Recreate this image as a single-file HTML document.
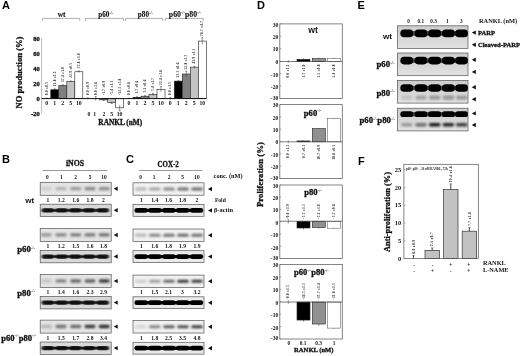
<!DOCTYPE html>
<html><head><meta charset="utf-8"><title>Figure</title>
<style>
html,body{margin:0;padding:0;background:#fff;}
svg{display:block;filter:blur(0.3px);}
.s{font-family:"Liberation Serif", serif;}
.h{font-family:"Liberation Sans", sans-serif;}
</style></head><body>
<svg width="520" height="356" viewBox="0 0 520 356">
<defs>
<filter id="b1" x="-20%" y="-50%" width="140%" height="200%"><feGaussianBlur stdDeviation="1.1 0.8"/></filter>
<filter id="b2" x="-20%" y="-50%" width="140%" height="200%"><feGaussianBlur stdDeviation="0.9 0.7"/></filter>
<filter id="b3" x="-20%" y="-50%" width="140%" height="200%"><feGaussianBlur stdDeviation="0.75 0.65"/></filter>
<linearGradient id="ge" x1="0" y1="0" x2="0" y2="1"><stop offset="0" stop-color="#cdcdcd"/><stop offset="0.5" stop-color="#d6d6d6"/><stop offset="1" stop-color="#e2e2e2"/></linearGradient>
</defs>
<rect width="520" height="356" fill="#fff"/>
<g text-anchor="middle" font-weight="bold" fill="#111">
<text class="h" x="2" y="9.2" font-size="11" text-anchor="start" fill="#000">A</text>
<text class="h" x="2" y="163" font-size="11" text-anchor="start" fill="#000">B</text>
<text class="h" x="126" y="162.6" font-size="11" text-anchor="start" fill="#000">C</text>
<text class="h" x="257" y="9" font-size="11" text-anchor="start" fill="#000">D</text>
<text class="h" x="357.5" y="9" font-size="11" text-anchor="start" fill="#000">E</text>
<text class="h" x="358" y="164.8" font-size="11" text-anchor="start" fill="#000">F</text>
<line x1="41.6" y1="38" x2="41.6" y2="113.5" stroke="#aaa" stroke-width="0.8"/>
<text class="s" x="39.8" y="41.3" font-size="6.5" text-anchor="end" stroke="#111" stroke-width="0.3">80</text>
<text class="s" x="39.8" y="56.3" font-size="6.5" text-anchor="end" stroke="#111" stroke-width="0.3">60</text>
<text class="s" x="39.8" y="71.3" font-size="6.5" text-anchor="end" stroke="#111" stroke-width="0.3">40</text>
<text class="s" x="39.8" y="86.3" font-size="6.5" text-anchor="end" stroke="#111" stroke-width="0.3">20</text>
<text class="s" x="39.8" y="101.3" font-size="6.5" text-anchor="end" stroke="#111" stroke-width="0.3">0</text>
<text class="s" x="39.8" y="116.3" font-size="6.5" text-anchor="end" stroke="#111" stroke-width="0.3">-20</text>
<line x1="46.8" y1="98.19999999999999" x2="46.8" y2="99.0" stroke="#333" stroke-width="0.5"/>
<line x1="45.8" y1="98.19999999999999" x2="47.8" y2="98.19999999999999" stroke="#333" stroke-width="0.5"/>
<text class="s" x="47.9" y="95.0" font-size="3.4" text-anchor="start" fill="#222" transform="rotate(-90 47.9 95.0)" letter-spacing="0.25">0.0 ±0.5</text>
<rect x="50.80" y="89.75" width="8.00" height="8.85" fill="#000" stroke="#222" stroke-width="0.6"/>
<line x1="54.8" y1="88.85" x2="54.8" y2="89.75" stroke="#333" stroke-width="0.5"/>
<line x1="53.8" y1="88.85" x2="55.8" y2="88.85" stroke="#333" stroke-width="0.5"/>
<text class="s" x="55.9" y="86.15" font-size="3.4" text-anchor="start" fill="#222" transform="rotate(-90 55.9 86.15)" letter-spacing="0.25">11.8 ±1.2</text>
<rect x="58.80" y="85.55" width="8.00" height="13.05" fill="#808080" stroke="#222" stroke-width="0.6"/>
<line x1="62.8" y1="84.85" x2="62.8" y2="86.25" stroke="#333" stroke-width="0.5"/>
<line x1="61.8" y1="84.85" x2="63.8" y2="84.85" stroke="#333" stroke-width="0.5"/>
<text class="s" x="63.9" y="81.95" font-size="3.4" text-anchor="start" fill="#222" transform="rotate(-90 63.9 81.95)" letter-spacing="0.25">17.4 ±1.0</text>
<rect x="66.80" y="81.42" width="8.00" height="17.17" fill="#c4c4c4" stroke="#222" stroke-width="0.6"/>
<line x1="70.8" y1="81.02499999999999" x2="70.8" y2="81.825" stroke="#333" stroke-width="0.5"/>
<line x1="69.8" y1="81.02499999999999" x2="71.8" y2="81.02499999999999" stroke="#333" stroke-width="0.5"/>
<text class="s" x="71.89999999999999" y="77.825" font-size="3.4" text-anchor="start" fill="#222" transform="rotate(-90 71.89999999999999 77.825)" letter-spacing="0.25">22.9 ±0.5</text>
<rect x="74.80" y="71.75" width="8.00" height="26.85" fill="#fff" stroke="#222" stroke-width="0.6"/>
<line x1="78.8" y1="70.95" x2="78.8" y2="72.55" stroke="#333" stroke-width="0.5"/>
<line x1="77.8" y1="70.95" x2="79.8" y2="70.95" stroke="#333" stroke-width="0.5"/>
<text class="s" x="79.89999999999999" y="68.15" font-size="3.4" text-anchor="start" fill="#222" transform="rotate(-90 79.89999999999999 68.15)" letter-spacing="0.25">35.8 ±1.0</text>
<text class="s" x="46.8" y="105.2" font-size="5.8">0</text>
<text class="s" x="54.8" y="105.2" font-size="5.8">1</text>
<text class="s" x="62.8" y="105.2" font-size="5.8">2</text>
<text class="s" x="70.8" y="105.2" font-size="5.8">5</text>
<text class="s" x="78.8" y="105.2" font-size="5.8">10</text>
<line x1="87.7" y1="97.89999999999999" x2="87.7" y2="99.3" stroke="#333" stroke-width="0.5"/>
<line x1="86.7" y1="97.89999999999999" x2="88.7" y2="97.89999999999999" stroke="#333" stroke-width="0.5"/>
<text class="s" x="88.8" y="95.0" font-size="3.4" text-anchor="start" fill="#222" transform="rotate(-90 88.8 95.0)" letter-spacing="0.25">0.0 ±0.9</text>
<line x1="95.7" y1="96.6" x2="95.7" y2="100.6" stroke="#333" stroke-width="0.5"/>
<line x1="94.7" y1="96.6" x2="96.7" y2="96.6" stroke="#333" stroke-width="0.5"/>
<text class="s" x="96.8" y="95.0" font-size="3.4" text-anchor="start" fill="#222" transform="rotate(-90 96.8 95.0)" letter-spacing="0.25">0.0 ±2.6</text>
<rect x="99.70" y="98.60" width="8.00" height="1.27" fill="#808080" stroke="#222" stroke-width="0.6"/>
<line x1="103.7" y1="99.175" x2="103.7" y2="100.575" stroke="#333" stroke-width="0.5"/>
<line x1="102.7" y1="100.575" x2="104.7" y2="100.575" stroke="#333" stroke-width="0.5"/>
<text class="s" x="104.8" y="95.1" font-size="3.4" text-anchor="start" fill="#222" transform="rotate(-90 104.8 95.1)" letter-spacing="0.25">-1.7 ±0.9</text>
<rect x="107.70" y="98.60" width="8.00" height="4.05" fill="#c4c4c4" stroke="#222" stroke-width="0.6"/>
<line x1="111.7" y1="101.85" x2="111.7" y2="103.44999999999999" stroke="#333" stroke-width="0.5"/>
<line x1="110.7" y1="103.44999999999999" x2="112.7" y2="103.44999999999999" stroke="#333" stroke-width="0.5"/>
<text class="s" x="112.8" y="95.1" font-size="3.4" text-anchor="start" fill="#222" transform="rotate(-90 112.8 95.1)" letter-spacing="0.25">-5.4 ±1.1</text>
<rect x="115.70" y="98.60" width="8.00" height="9.23" fill="#fff" stroke="#222" stroke-width="0.6"/>
<line x1="119.7" y1="104.92499999999998" x2="119.7" y2="110.725" stroke="#333" stroke-width="0.5"/>
<line x1="118.7" y1="110.725" x2="120.7" y2="110.725" stroke="#333" stroke-width="0.5"/>
<text class="s" x="120.8" y="95.1" font-size="3.4" text-anchor="start" fill="#222" transform="rotate(-90 120.8 95.1)" letter-spacing="0.25">-12.3 ±3.8</text>
<text class="s" x="89" y="115.6" font-size="5.8">0</text>
<text class="s" x="94.7" y="115.6" font-size="5.8">1</text>
<text class="s" x="104" y="115.6" font-size="5.8">2</text>
<text class="s" x="111.8" y="115.6" font-size="5.8">5</text>
<text class="s" x="119.6" y="115.6" font-size="5.8">10</text>
<line x1="129.0" y1="98.1" x2="129.0" y2="99.1" stroke="#333" stroke-width="0.5"/>
<line x1="128.0" y1="98.1" x2="130.0" y2="98.1" stroke="#333" stroke-width="0.5"/>
<text class="s" x="130.1" y="95.0" font-size="3.4" text-anchor="start" fill="#222" transform="rotate(-90 130.1 95.0)" letter-spacing="0.25">0.0 ±0.6</text>
<rect x="133.00" y="97.32" width="8.00" height="1.27" fill="#000" stroke="#222" stroke-width="0.6"/>
<line x1="137.0" y1="96.82499999999999" x2="137.0" y2="97.32499999999999" stroke="#333" stroke-width="0.5"/>
<line x1="136.0" y1="96.82499999999999" x2="138.0" y2="96.82499999999999" stroke="#333" stroke-width="0.5"/>
<text class="s" x="138.1" y="93.725" font-size="3.4" text-anchor="start" fill="#222" transform="rotate(-90 138.1 93.725)" letter-spacing="0.25">1.7 ±0.6</text>
<rect x="141.00" y="96.20" width="8.00" height="2.40" fill="#808080" stroke="#222" stroke-width="0.6"/>
<line x1="145.0" y1="95.69999999999999" x2="145.0" y2="96.69999999999999" stroke="#333" stroke-width="0.5"/>
<line x1="144.0" y1="95.69999999999999" x2="146.0" y2="95.69999999999999" stroke="#333" stroke-width="0.5"/>
<text class="s" x="146.1" y="92.6" font-size="3.4" text-anchor="start" fill="#222" transform="rotate(-90 146.1 92.6)" letter-spacing="0.25">3.2 ±0.6</text>
<rect x="149.00" y="94.55" width="8.00" height="4.05" fill="#c4c4c4" stroke="#222" stroke-width="0.6"/>
<line x1="153.0" y1="93.25" x2="153.0" y2="95.85" stroke="#333" stroke-width="0.5"/>
<line x1="152.0" y1="93.25" x2="154.0" y2="93.25" stroke="#333" stroke-width="0.5"/>
<text class="s" x="154.1" y="90.95" font-size="3.4" text-anchor="start" fill="#222" transform="rotate(-90 154.1 90.95)" letter-spacing="0.25">5.4 ±1.7</text>
<rect x="157.00" y="89.30" width="8.00" height="9.30" fill="#fff" stroke="#222" stroke-width="0.6"/>
<line x1="161.0" y1="86.6" x2="161.0" y2="92.0" stroke="#333" stroke-width="0.5"/>
<line x1="160.0" y1="86.6" x2="162.0" y2="86.6" stroke="#333" stroke-width="0.5"/>
<text class="s" x="162.1" y="85.0" font-size="3.4" text-anchor="start" fill="#222" transform="rotate(-90 162.1 85.0)" letter-spacing="0.25">12.4 ±3.6</text>
<text class="s" x="129.0" y="105.2" font-size="5.8">0</text>
<text class="s" x="137.0" y="105.2" font-size="5.8">1</text>
<text class="s" x="145.0" y="105.2" font-size="5.8">2</text>
<text class="s" x="153.0" y="105.2" font-size="5.8">5</text>
<text class="s" x="161.0" y="105.2" font-size="5.8">10</text>
<line x1="170.3" y1="97.5" x2="170.3" y2="99.69999999999999" stroke="#333" stroke-width="0.5"/>
<line x1="169.3" y1="97.5" x2="171.3" y2="97.5" stroke="#333" stroke-width="0.5"/>
<text class="s" x="171.4" y="95.0" font-size="3.4" text-anchor="start" fill="#222" transform="rotate(-90 171.4 95.0)" letter-spacing="0.25">0.0 ±1.5</text>
<rect x="174.30" y="81.12" width="8.00" height="17.48" fill="#000" stroke="#222" stroke-width="0.6"/>
<line x1="178.3" y1="80.625" x2="178.3" y2="81.125" stroke="#333" stroke-width="0.5"/>
<line x1="177.3" y1="80.625" x2="179.3" y2="80.625" stroke="#333" stroke-width="0.5"/>
<text class="s" x="179.4" y="77.525" font-size="3.4" text-anchor="start" fill="#222" transform="rotate(-90 179.4 77.525)" letter-spacing="0.25">23.3 ±0.6</text>
<rect x="182.30" y="74.00" width="8.00" height="24.60" fill="#808080" stroke="#222" stroke-width="0.6"/>
<line x1="186.3" y1="71.2" x2="186.3" y2="76.8" stroke="#333" stroke-width="0.5"/>
<line x1="185.3" y1="71.2" x2="187.3" y2="71.2" stroke="#333" stroke-width="0.5"/>
<text class="s" x="187.4" y="69.6" font-size="3.4" text-anchor="start" fill="#222" transform="rotate(-90 187.4 69.6)" letter-spacing="0.25">32.8 ±3.7</text>
<rect x="190.30" y="67.17" width="8.00" height="31.42" fill="#c4c4c4" stroke="#222" stroke-width="0.6"/>
<line x1="194.3" y1="66.175" x2="194.3" y2="68.175" stroke="#333" stroke-width="0.5"/>
<line x1="193.3" y1="66.175" x2="195.3" y2="66.175" stroke="#333" stroke-width="0.5"/>
<text class="s" x="195.4" y="63.574999999999996" font-size="3.4" text-anchor="start" fill="#222" transform="rotate(-90 195.4 63.574999999999996)" letter-spacing="0.25">41.9 ±1.3</text>
<rect x="198.30" y="41.07" width="8.00" height="57.53" fill="#fff" stroke="#222" stroke-width="0.6"/>
<line x1="202.3" y1="37.57499999999999" x2="202.3" y2="44.57499999999999" stroke="#333" stroke-width="0.5"/>
<line x1="201.3" y1="37.57499999999999" x2="203.3" y2="37.57499999999999" stroke="#333" stroke-width="0.5"/>
<text class="s" x="203.4" y="35.97499999999999" font-size="3.4" text-anchor="start" fill="#222" transform="rotate(-90 203.4 35.97499999999999)" letter-spacing="0.25">76.7 ±4.7</text>
<text class="s" x="170.3" y="105.2" font-size="5.8">0</text>
<text class="s" x="178.3" y="105.2" font-size="5.8">1</text>
<text class="s" x="186.3" y="105.2" font-size="5.8">2</text>
<text class="s" x="194.3" y="105.2" font-size="5.8">5</text>
<text class="s" x="202.3" y="105.2" font-size="5.8">10</text>
<line x1="41.6" y1="98.6" x2="206.5" y2="98.6" stroke="#111" stroke-width="1.0"/>
<polyline points="42.6,20.8 42.6,18.4 79.8,18.4 79.8,20.8" fill="none" stroke="#777" stroke-width="0.6"/>
<text class="s" x="61.7" y="16.6" font-size="7.4" stroke="#111" stroke-width="0.1">wt</text>
<polyline points="85.5,20.8 85.5,18.4 123.5,18.4 123.5,20.8" fill="none" stroke="#777" stroke-width="0.6"/>
<text class="s" x="105.7" y="16.8" font-size="7.2" stroke="#111" stroke-width="0.1">p60<tspan font-size="4" dy="-2.74" fill="#333" stroke="none">-/-</tspan></text>
<polyline points="125.5,20.8 125.5,18.4 162.8,18.4 162.8,20.8" fill="none" stroke="#777" stroke-width="0.6"/>
<text class="s" x="145.35" y="16.8" font-size="7.2" stroke="#111" stroke-width="0.1">p80<tspan font-size="4" dy="-2.74" fill="#333" stroke="none">-/-</tspan></text>
<polyline points="165.4,20.8 165.4,18.4 203.2,18.4 203.2,20.8" fill="none" stroke="#777" stroke-width="0.6"/>
<text class="s" x="184.9" y="16.8" font-size="7.8" stroke="#111" stroke-width="0.1">p60<tspan font-size="4.2" dy="-2.96" fill="#333" stroke="none">-/-</tspan><tspan dy="2.96">p80</tspan><tspan font-size="4.2" dy="-2.96" fill="#333" stroke="none">-/-</tspan></text>
<text class="s" x="120.3" y="124.6" font-size="7.35" stroke="#111" stroke-width="0.3">RANKL (nM)</text>
<text class="s" x="22.3" y="72.5" font-size="8.6" transform="rotate(-90 22.3 72.5)" stroke="#111" stroke-width="0.3">NO production (%)</text>
<text class="s" x="75" y="166" font-size="7.8" stroke="#111" stroke-width="0.3">iNOS</text>
<line x1="42.5" y1="170.5" x2="107.5" y2="170.5" stroke="#555" stroke-width="0.6"/>
<text class="s" x="47.4" y="179.2" font-size="5.4">0</text>
<text class="s" x="61.3" y="179.2" font-size="5.4">1</text>
<text class="s" x="75.5" y="179.2" font-size="5.4">2</text>
<text class="s" x="90" y="179.2" font-size="5.4">5</text>
<text class="s" x="104" y="179.2" font-size="5.4">10</text>
<clipPath id="c1"><rect x="40.2" y="182.3" width="71.0" height="13.0"/></clipPath>
<rect x="40.2" y="182.3" width="71.0" height="13.0" fill="#e4e4e4"/>
<g clip-path="url(#c1)">
<g filter="url(#b1)">
<rect x="40.70" y="187.05" width="11.00" height="3.30" rx="1.65" fill="#2a2a2a" fill-opacity="0.125"/>
<rect x="55.50" y="187.05" width="11.00" height="3.30" rx="1.65" fill="#2a2a2a" fill-opacity="0.275"/>
<rect x="70.20" y="187.05" width="11.00" height="3.30" rx="1.65" fill="#2a2a2a" fill-opacity="0.4"/>
<rect x="84.50" y="187.05" width="11.00" height="3.30" rx="1.65" fill="#2a2a2a" fill-opacity="0.5"/>
<rect x="98.70" y="187.05" width="11.00" height="3.30" rx="1.65" fill="#2a2a2a" fill-opacity="0.475"/>
</g>
</g>
<rect x="40.2" y="182.3" width="71.0" height="13.0" fill="none" stroke="#555" stroke-width="0.7"/>
<text class="s" x="48" y="202.1" font-size="5.6">1</text>
<text class="s" x="61.3" y="202.1" font-size="5.6">1.2</text>
<text class="s" x="75.7" y="202.1" font-size="5.6">1.6</text>
<text class="s" x="90" y="202.1" font-size="5.6">1.8</text>
<text class="s" x="103.5" y="202.1" font-size="5.6">2</text>
<clipPath id="c2"><rect x="40.2" y="204.2" width="71.0" height="12.4"/></clipPath>
<rect x="40.2" y="204.2" width="71.0" height="12.4" fill="#d8d8d8"/>
<g clip-path="url(#c2)">
<g filter="url(#b2)">
<rect x="41.60" y="208.25" width="12.60" height="4.30" rx="2.15" fill="#0a0a0a" fill-opacity="0.93"/>
<rect x="55.30" y="208.25" width="12.60" height="4.30" rx="2.15" fill="#0a0a0a" fill-opacity="0.93"/>
<rect x="69.00" y="208.25" width="12.60" height="4.30" rx="2.15" fill="#0a0a0a" fill-opacity="0.93"/>
<rect x="82.70" y="208.25" width="12.60" height="4.30" rx="2.15" fill="#0a0a0a" fill-opacity="0.93"/>
<rect x="96.40" y="208.25" width="12.60" height="4.30" rx="2.15" fill="#0a0a0a" fill-opacity="0.93"/>
<rect x="45.30" y="209.30" width="60.00" height="2.20" rx="1.10" fill="#0a0a0a" fill-opacity="0.85"/>
</g>
</g>
<rect x="40.2" y="204.2" width="71.0" height="12.4" fill="none" stroke="#555" stroke-width="0.7"/>
<polygon points="113.7,188.8 117.7,186.60000000000002 117.7,191.0" fill="#111"/>
<polygon points="113.7,210.29999999999998 117.7,208.1 117.7,212.49999999999997" fill="#111"/>
<clipPath id="c3"><rect x="40.2" y="228.5" width="71.0" height="13.0"/></clipPath>
<rect x="40.2" y="228.5" width="71.0" height="13.0" fill="#e4e4e4"/>
<g clip-path="url(#c3)">
<g filter="url(#b1)">
<rect x="40.70" y="233.25" width="11.00" height="3.30" rx="1.65" fill="#2a2a2a" fill-opacity="0.41250000000000003"/>
<rect x="55.50" y="233.25" width="11.00" height="3.30" rx="1.65" fill="#2a2a2a" fill-opacity="0.5"/>
<rect x="70.20" y="233.25" width="11.00" height="3.30" rx="1.65" fill="#2a2a2a" fill-opacity="0.5625"/>
<rect x="84.50" y="233.25" width="11.00" height="3.30" rx="1.65" fill="#2a2a2a" fill-opacity="0.5750000000000001"/>
<rect x="98.70" y="233.25" width="11.00" height="3.30" rx="1.65" fill="#2a2a2a" fill-opacity="0.625"/>
</g>
</g>
<rect x="40.2" y="228.5" width="71.0" height="13.0" fill="none" stroke="#555" stroke-width="0.7"/>
<text class="s" x="48" y="248.29999999999998" font-size="5.6">1</text>
<text class="s" x="61.3" y="248.29999999999998" font-size="5.6">1.2</text>
<text class="s" x="75.7" y="248.29999999999998" font-size="5.6">1.5</text>
<text class="s" x="90" y="248.29999999999998" font-size="5.6">1.6</text>
<text class="s" x="103.5" y="248.29999999999998" font-size="5.6">1.8</text>
<clipPath id="c4"><rect x="40.2" y="250.39999999999998" width="71.0" height="12.4"/></clipPath>
<rect x="40.2" y="250.39999999999998" width="71.0" height="12.4" fill="#d8d8d8"/>
<g clip-path="url(#c4)">
<g filter="url(#b2)">
<rect x="41.60" y="254.45" width="12.60" height="4.30" rx="2.15" fill="#0a0a0a" fill-opacity="0.93"/>
<rect x="55.30" y="254.45" width="12.60" height="4.30" rx="2.15" fill="#0a0a0a" fill-opacity="0.93"/>
<rect x="69.00" y="254.45" width="12.60" height="4.30" rx="2.15" fill="#0a0a0a" fill-opacity="0.93"/>
<rect x="82.70" y="254.45" width="12.60" height="4.30" rx="2.15" fill="#0a0a0a" fill-opacity="0.93"/>
<rect x="96.40" y="254.45" width="12.60" height="4.30" rx="2.15" fill="#0a0a0a" fill-opacity="0.93"/>
<rect x="45.30" y="255.50" width="60.00" height="2.20" rx="1.10" fill="#0a0a0a" fill-opacity="0.85"/>
</g>
</g>
<rect x="40.2" y="250.39999999999998" width="71.0" height="12.4" fill="none" stroke="#555" stroke-width="0.7"/>
<polygon points="113.7,235.0 117.7,232.8 117.7,237.2" fill="#111"/>
<polygon points="113.7,256.5 117.7,254.3 117.7,258.7" fill="#111"/>
<clipPath id="c5"><rect x="40.2" y="274.6" width="71.0" height="13.0"/></clipPath>
<rect x="40.2" y="274.6" width="71.0" height="13.0" fill="#e4e4e4"/>
<g clip-path="url(#c5)">
<g filter="url(#b1)">
<rect x="40.70" y="279.35" width="11.00" height="3.30" rx="1.65" fill="#2a2a2a" fill-opacity="0.17500000000000002"/>
<rect x="55.50" y="279.35" width="11.00" height="3.30" rx="1.65" fill="#2a2a2a" fill-opacity="0.5"/>
<rect x="70.20" y="279.35" width="11.00" height="3.30" rx="1.65" fill="#2a2a2a" fill-opacity="0.65"/>
<rect x="84.50" y="279.35" width="11.00" height="3.30" rx="1.65" fill="#2a2a2a" fill-opacity="0.6875"/>
<rect x="98.70" y="279.35" width="11.00" height="3.30" rx="1.65" fill="#2a2a2a" fill-opacity="0.8999999999999999"/>
</g>
</g>
<rect x="40.2" y="274.6" width="71.0" height="13.0" fill="none" stroke="#555" stroke-width="0.7"/>
<text class="s" x="48" y="294.40000000000003" font-size="5.6">1</text>
<text class="s" x="61.3" y="294.40000000000003" font-size="5.6">1.4</text>
<text class="s" x="75.7" y="294.40000000000003" font-size="5.6">1.6</text>
<text class="s" x="90" y="294.40000000000003" font-size="5.6">2.3</text>
<text class="s" x="103.5" y="294.40000000000003" font-size="5.6">2.9</text>
<clipPath id="c6"><rect x="40.2" y="296.5" width="71.0" height="12.4"/></clipPath>
<rect x="40.2" y="296.5" width="71.0" height="12.4" fill="#d8d8d8"/>
<g clip-path="url(#c6)">
<g filter="url(#b2)">
<rect x="41.60" y="300.55" width="12.60" height="4.30" rx="2.15" fill="#0a0a0a" fill-opacity="0.93"/>
<rect x="55.30" y="300.55" width="12.60" height="4.30" rx="2.15" fill="#0a0a0a" fill-opacity="0.93"/>
<rect x="69.00" y="300.55" width="12.60" height="4.30" rx="2.15" fill="#0a0a0a" fill-opacity="0.93"/>
<rect x="82.70" y="300.55" width="12.60" height="4.30" rx="2.15" fill="#0a0a0a" fill-opacity="0.93"/>
<rect x="96.40" y="300.55" width="12.60" height="4.30" rx="2.15" fill="#0a0a0a" fill-opacity="0.93"/>
<rect x="45.30" y="301.60" width="60.00" height="2.20" rx="1.10" fill="#0a0a0a" fill-opacity="0.85"/>
</g>
</g>
<rect x="40.2" y="296.5" width="71.0" height="12.4" fill="none" stroke="#555" stroke-width="0.7"/>
<polygon points="113.7,281.1 117.7,278.90000000000003 117.7,283.3" fill="#111"/>
<polygon points="113.7,302.6 117.7,300.40000000000003 117.7,304.8" fill="#111"/>
<clipPath id="c7"><rect x="40.2" y="320.1" width="71.0" height="13.0"/></clipPath>
<rect x="40.2" y="320.1" width="71.0" height="13.0" fill="#e4e4e4"/>
<g clip-path="url(#c7)">
<g filter="url(#b1)">
<rect x="40.70" y="324.85" width="11.00" height="3.30" rx="1.65" fill="#2a2a2a" fill-opacity="0.25"/>
<rect x="55.50" y="324.85" width="11.00" height="3.30" rx="1.65" fill="#2a2a2a" fill-opacity="0.6"/>
<rect x="70.20" y="324.85" width="11.00" height="3.30" rx="1.65" fill="#2a2a2a" fill-opacity="0.65"/>
<rect x="84.50" y="324.85" width="11.00" height="3.30" rx="1.65" fill="#2a2a2a" fill-opacity="0.8999999999999999"/>
<rect x="98.70" y="324.85" width="11.00" height="3.30" rx="1.65" fill="#2a2a2a" fill-opacity="0.9750000000000001"/>
</g>
</g>
<rect x="40.2" y="320.1" width="71.0" height="13.0" fill="none" stroke="#555" stroke-width="0.7"/>
<text class="s" x="48" y="339.90000000000003" font-size="5.6">1</text>
<text class="s" x="61.3" y="339.90000000000003" font-size="5.6">1.5</text>
<text class="s" x="75.7" y="339.90000000000003" font-size="5.6">1.7</text>
<text class="s" x="90" y="339.90000000000003" font-size="5.6">2.8</text>
<text class="s" x="103.5" y="339.90000000000003" font-size="5.6">3.4</text>
<clipPath id="c8"><rect x="40.2" y="342.0" width="71.0" height="12.4"/></clipPath>
<rect x="40.2" y="342.0" width="71.0" height="12.4" fill="#d8d8d8"/>
<g clip-path="url(#c8)">
<g filter="url(#b2)">
<rect x="41.60" y="346.05" width="12.60" height="4.30" rx="2.15" fill="#0a0a0a" fill-opacity="0.93"/>
<rect x="55.30" y="346.05" width="12.60" height="4.30" rx="2.15" fill="#0a0a0a" fill-opacity="0.93"/>
<rect x="69.00" y="346.05" width="12.60" height="4.30" rx="2.15" fill="#0a0a0a" fill-opacity="0.93"/>
<rect x="82.70" y="346.05" width="12.60" height="4.30" rx="2.15" fill="#0a0a0a" fill-opacity="0.93"/>
<rect x="96.40" y="346.05" width="12.60" height="4.30" rx="2.15" fill="#0a0a0a" fill-opacity="0.93"/>
<rect x="45.30" y="347.10" width="60.00" height="2.20" rx="1.10" fill="#0a0a0a" fill-opacity="0.85"/>
</g>
</g>
<rect x="40.2" y="342.0" width="71.0" height="12.4" fill="none" stroke="#555" stroke-width="0.7"/>
<polygon points="113.7,326.6 117.7,324.40000000000003 117.7,328.8" fill="#111"/>
<polygon points="113.7,348.1 117.7,345.90000000000003 117.7,350.3" fill="#111"/>
<text class="h" x="29.7" y="202.7" font-size="8.1">wt</text>
<text class="s" x="26.2" y="252.0" font-size="8.7" stroke="#111" stroke-width="0.3">p60<tspan font-size="4.6" dy="-3.31" fill="#333" stroke="none">-/-</tspan></text>
<text class="s" x="26.2" y="295.7" font-size="8.7" stroke="#111" stroke-width="0.3">p80<tspan font-size="4.6" dy="-3.31" fill="#333" stroke="none">-/-</tspan></text>
<text class="s" x="18.7" y="340.7" font-size="8.6" stroke="#111" stroke-width="0.3">p60<tspan font-size="4.4" dy="-3.27" fill="#333" stroke="none">-/-</tspan><tspan dy="3.27">p80</tspan><tspan font-size="4.4" dy="-3.27" fill="#333" stroke="none">-/-</tspan></text>
<text class="s" x="168.2" y="166.9" font-size="7.8" stroke="#111" stroke-width="0.3" textLength="21.2" lengthAdjust="spacingAndGlyphs">COX-2</text>
<line x1="139" y1="170.5" x2="202.5" y2="170.5" stroke="#555" stroke-width="0.6"/>
<text class="s" x="140.5" y="179.2" font-size="5.4">0</text>
<text class="s" x="154" y="179.2" font-size="5.4">1</text>
<text class="s" x="169" y="179.2" font-size="5.4">2</text>
<text class="s" x="182.5" y="179.2" font-size="5.4">5</text>
<text class="s" x="197" y="179.2" font-size="5.4">10</text>
<clipPath id="c9"><rect x="133.0" y="182.8" width="71.0" height="12.4"/></clipPath>
<rect x="133.0" y="182.8" width="71.0" height="12.4" fill="#f1f1f1"/>
<g clip-path="url(#c9)">
<g filter="url(#b1)">
<rect x="135.05" y="187.45" width="11.50" height="3.10" rx="1.55" fill="#222" fill-opacity="0.28"/>
<rect x="149.05" y="187.45" width="11.50" height="3.10" rx="1.55" fill="#222" fill-opacity="0.38"/>
<rect x="163.25" y="187.45" width="11.50" height="3.10" rx="1.55" fill="#222" fill-opacity="0.5"/>
<rect x="177.25" y="187.45" width="11.50" height="3.10" rx="1.55" fill="#222" fill-opacity="0.62"/>
<rect x="191.25" y="187.45" width="11.50" height="3.10" rx="1.55" fill="#222" fill-opacity="0.65"/>
</g>
</g>
<rect x="133.0" y="182.8" width="71.0" height="12.4" fill="none" stroke="#555" stroke-width="0.7"/>
<text class="s" x="141.5" y="202.0" font-size="5.6">1</text>
<text class="s" x="154.8" y="202.0" font-size="5.6">1.4</text>
<text class="s" x="168.5" y="202.0" font-size="5.6">1.6</text>
<text class="s" x="182.5" y="202.0" font-size="5.6">1.8</text>
<text class="s" x="197" y="202.0" font-size="5.6">2</text>
<clipPath id="c10"><rect x="133.0" y="204.5" width="71.0" height="11.8"/></clipPath>
<rect x="133.0" y="204.5" width="71.0" height="11.8" fill="#eaeaea"/>
<g clip-path="url(#c10)">
<g filter="url(#b3)">
<rect x="134.40" y="208.05" width="13.20" height="4.70" rx="2.35" fill="#000" fill-opacity="1"/>
<rect x="148.30" y="208.05" width="13.20" height="4.70" rx="2.35" fill="#000" fill-opacity="1"/>
<rect x="162.20" y="208.05" width="13.20" height="4.70" rx="2.35" fill="#000" fill-opacity="1"/>
<rect x="176.10" y="208.05" width="13.20" height="4.70" rx="2.35" fill="#000" fill-opacity="1"/>
<rect x="190.00" y="208.05" width="13.20" height="4.70" rx="2.35" fill="#000" fill-opacity="1"/>
<rect x="138.80" y="208.70" width="60.00" height="3.40" rx="1.70" fill="#000" fill-opacity="0.95"/>
</g>
</g>
<rect x="133.0" y="204.5" width="71.0" height="11.8" fill="none" stroke="#555" stroke-width="0.7"/>
<polygon points="208,189.0 212,186.8 212,191.2" fill="#111"/>
<polygon points="208,210.4 212,208.20000000000002 212,212.6" fill="#111"/>
<clipPath id="c11"><rect x="133.0" y="229.0" width="71.0" height="12.4"/></clipPath>
<rect x="133.0" y="229.0" width="71.0" height="12.4" fill="#f1f1f1"/>
<g clip-path="url(#c11)">
<g filter="url(#b1)">
<rect x="135.05" y="233.65" width="11.50" height="3.10" rx="1.55" fill="#222" fill-opacity="0.28"/>
<rect x="149.05" y="233.65" width="11.50" height="3.10" rx="1.55" fill="#222" fill-opacity="0.52"/>
<rect x="163.25" y="233.65" width="11.50" height="3.10" rx="1.55" fill="#222" fill-opacity="0.62"/>
<rect x="177.25" y="233.65" width="11.50" height="3.10" rx="1.55" fill="#222" fill-opacity="0.65"/>
<rect x="191.25" y="233.65" width="11.50" height="3.10" rx="1.55" fill="#222" fill-opacity="0.62"/>
</g>
</g>
<rect x="133.0" y="229.0" width="71.0" height="12.4" fill="none" stroke="#555" stroke-width="0.7"/>
<text class="s" x="141.5" y="248.2" font-size="5.6">1</text>
<text class="s" x="154.8" y="248.2" font-size="5.6">1.6</text>
<text class="s" x="168.5" y="248.2" font-size="5.6">1.8</text>
<text class="s" x="182.5" y="248.2" font-size="5.6">1.9</text>
<text class="s" x="197" y="248.2" font-size="5.6">1.9</text>
<clipPath id="c12"><rect x="133.0" y="250.7" width="71.0" height="11.8"/></clipPath>
<rect x="133.0" y="250.7" width="71.0" height="11.8" fill="#eaeaea"/>
<g clip-path="url(#c12)">
<g filter="url(#b3)">
<rect x="134.40" y="254.25" width="13.20" height="4.70" rx="2.35" fill="#000" fill-opacity="1"/>
<rect x="148.30" y="254.25" width="13.20" height="4.70" rx="2.35" fill="#000" fill-opacity="1"/>
<rect x="162.20" y="254.25" width="13.20" height="4.70" rx="2.35" fill="#000" fill-opacity="1"/>
<rect x="176.10" y="254.25" width="13.20" height="4.70" rx="2.35" fill="#000" fill-opacity="1"/>
<rect x="190.00" y="254.25" width="13.20" height="4.70" rx="2.35" fill="#000" fill-opacity="1"/>
<rect x="138.80" y="254.90" width="60.00" height="3.40" rx="1.70" fill="#000" fill-opacity="0.95"/>
</g>
</g>
<rect x="133.0" y="250.7" width="71.0" height="11.8" fill="none" stroke="#555" stroke-width="0.7"/>
<polygon points="208,235.2 212,233.0 212,237.39999999999998" fill="#111"/>
<polygon points="208,256.59999999999997 212,254.39999999999998 212,258.79999999999995" fill="#111"/>
<clipPath id="c13"><rect x="133.0" y="275.1" width="71.0" height="12.4"/></clipPath>
<rect x="133.0" y="275.1" width="71.0" height="12.4" fill="#f1f1f1"/>
<g clip-path="url(#c13)">
<g filter="url(#b1)">
<rect x="135.05" y="279.75" width="11.50" height="3.10" rx="1.55" fill="#222" fill-opacity="0.18"/>
<rect x="149.05" y="279.75" width="11.50" height="3.10" rx="1.55" fill="#222" fill-opacity="0.4"/>
<rect x="163.25" y="279.75" width="11.50" height="3.10" rx="1.55" fill="#222" fill-opacity="0.65"/>
<rect x="177.25" y="279.75" width="11.50" height="3.10" rx="1.55" fill="#222" fill-opacity="0.9"/>
<rect x="191.25" y="279.75" width="11.50" height="3.10" rx="1.55" fill="#222" fill-opacity="0.85"/>
</g>
</g>
<rect x="133.0" y="275.1" width="71.0" height="12.4" fill="none" stroke="#555" stroke-width="0.7"/>
<text class="s" x="141.5" y="294.3" font-size="5.6">1</text>
<text class="s" x="154.8" y="294.3" font-size="5.6">1.5</text>
<text class="s" x="168.5" y="294.3" font-size="5.6">2.1</text>
<text class="s" x="182.5" y="294.3" font-size="5.6">3</text>
<text class="s" x="197" y="294.3" font-size="5.6">3.2</text>
<clipPath id="c14"><rect x="133.0" y="296.8" width="71.0" height="11.8"/></clipPath>
<rect x="133.0" y="296.8" width="71.0" height="11.8" fill="#eaeaea"/>
<g clip-path="url(#c14)">
<g filter="url(#b3)">
<rect x="134.40" y="300.35" width="13.20" height="4.70" rx="2.35" fill="#000" fill-opacity="1"/>
<rect x="148.30" y="300.35" width="13.20" height="4.70" rx="2.35" fill="#000" fill-opacity="1"/>
<rect x="162.20" y="300.35" width="13.20" height="4.70" rx="2.35" fill="#000" fill-opacity="1"/>
<rect x="176.10" y="300.35" width="13.20" height="4.70" rx="2.35" fill="#000" fill-opacity="1"/>
<rect x="190.00" y="300.35" width="13.20" height="4.70" rx="2.35" fill="#000" fill-opacity="1"/>
<rect x="138.80" y="301.00" width="60.00" height="3.40" rx="1.70" fill="#000" fill-opacity="0.95"/>
</g>
</g>
<rect x="133.0" y="296.8" width="71.0" height="11.8" fill="none" stroke="#555" stroke-width="0.7"/>
<polygon points="208,281.3 212,279.1 212,283.5" fill="#111"/>
<polygon points="208,302.7 212,300.5 212,304.9" fill="#111"/>
<clipPath id="c15"><rect x="133.0" y="320.6" width="71.0" height="12.4"/></clipPath>
<rect x="133.0" y="320.6" width="71.0" height="12.4" fill="#f1f1f1"/>
<g clip-path="url(#c15)">
<g filter="url(#b1)">
<rect x="135.05" y="325.25" width="11.50" height="3.10" rx="1.55" fill="#222" fill-opacity="0.15"/>
<rect x="149.05" y="325.25" width="11.50" height="3.10" rx="1.55" fill="#222" fill-opacity="0.52"/>
<rect x="163.25" y="325.25" width="11.50" height="3.10" rx="1.55" fill="#222" fill-opacity="0.72"/>
<rect x="177.25" y="325.25" width="11.50" height="3.10" rx="1.55" fill="#222" fill-opacity="0.78"/>
<rect x="191.25" y="325.25" width="11.50" height="3.10" rx="1.55" fill="#222" fill-opacity="0.85"/>
</g>
</g>
<rect x="133.0" y="320.6" width="71.0" height="12.4" fill="none" stroke="#555" stroke-width="0.7"/>
<text class="s" x="141.5" y="339.8" font-size="5.6">1</text>
<text class="s" x="154.8" y="339.8" font-size="5.6">1.8</text>
<text class="s" x="168.5" y="339.8" font-size="5.6">2.5</text>
<text class="s" x="182.5" y="339.8" font-size="5.6">3.5</text>
<text class="s" x="197" y="339.8" font-size="5.6">4.8</text>
<clipPath id="c16"><rect x="133.0" y="342.3" width="71.0" height="11.8"/></clipPath>
<rect x="133.0" y="342.3" width="71.0" height="11.8" fill="#eaeaea"/>
<g clip-path="url(#c16)">
<g filter="url(#b3)">
<rect x="134.40" y="345.85" width="13.20" height="4.70" rx="2.35" fill="#000" fill-opacity="1"/>
<rect x="148.30" y="345.85" width="13.20" height="4.70" rx="2.35" fill="#000" fill-opacity="1"/>
<rect x="162.20" y="345.85" width="13.20" height="4.70" rx="2.35" fill="#000" fill-opacity="1"/>
<rect x="176.10" y="345.85" width="13.20" height="4.70" rx="2.35" fill="#000" fill-opacity="1"/>
<rect x="190.00" y="345.85" width="13.20" height="4.70" rx="2.35" fill="#000" fill-opacity="1"/>
<rect x="138.80" y="346.50" width="60.00" height="3.40" rx="1.70" fill="#000" fill-opacity="0.95"/>
</g>
</g>
<rect x="133.0" y="342.3" width="71.0" height="11.8" fill="none" stroke="#555" stroke-width="0.7"/>
<polygon points="208,326.8 212,324.6 212,329.0" fill="#111"/>
<polygon points="208,348.2 212,346.0 212,350.4" fill="#111"/>
<text class="s" x="213.6" y="178.3" font-size="6.3" text-anchor="start">conc. (nM)</text>
<text class="s" x="215" y="201.9" font-size="5.5" text-anchor="start">Fold</text>
<text class="s" x="214" y="212.3" font-size="6.4" text-anchor="start">β-actin</text>
<line x1="288.3" y1="60.13233333333333" x2="288.3" y2="62.86766666666666" stroke="#333" stroke-width="0.5"/>
<text class="s" x="289.40000000000003" y="64.3" font-size="3.4" text-anchor="end" fill="#222" transform="rotate(-90 289.40000000000003 64.3)" letter-spacing="0.25">0.0 ±1.1</text>
<rect x="297.00" y="59.39" width="13.00" height="2.11" fill="#000" stroke="#222" stroke-width="0.6"/>
<line x1="303.5" y1="58.142999999999994" x2="303.5" y2="59.386333333333326" stroke="#333" stroke-width="0.5"/>
<text class="s" x="304.6" y="64.3" font-size="3.4" text-anchor="end" fill="#222" transform="rotate(-90 304.6 64.3)" letter-spacing="0.25">1.7 ±1.0</text>
<rect x="312.30" y="58.64" width="13.00" height="2.86" fill="#909090" stroke="#222" stroke-width="0.6"/>
<line x1="318.8" y1="57.645666666666656" x2="318.8" y2="58.640333333333324" stroke="#333" stroke-width="0.5"/>
<text class="s" x="319.90000000000003" y="64.3" font-size="3.4" text-anchor="end" fill="#222" transform="rotate(-90 319.90000000000003 64.3)" letter-spacing="0.25">2.3 ±0.8</text>
<rect x="327.40" y="58.52" width="13.00" height="2.98" fill="#fff" stroke="#666" stroke-width="0.6"/>
<line x1="333.9" y1="57.521333333333324" x2="333.9" y2="58.51599999999999" stroke="#333" stroke-width="0.5"/>
<text class="s" x="335.0" y="64.3" font-size="3.4" text-anchor="end" fill="#222" transform="rotate(-90 335.0 64.3)" letter-spacing="0.25">2.4 ±0.8</text>
<line x1="279.8" y1="61.49999999999999" x2="342.3" y2="61.49999999999999" stroke="#444" stroke-width="0.7"/>
<rect x="279.80" y="23.90" width="62.50" height="74.60" fill="none" stroke="#666" stroke-width="0.8"/>
<text class="s" x="278.3" y="26.7" font-size="5.6" text-anchor="end">30</text>
<line x1="279.8" y1="23.9" x2="281.3" y2="23.9" stroke="#555" stroke-width="0.5"/>
<text class="s" x="278.3" y="39.23333333333333" font-size="5.6" text-anchor="end">20</text>
<line x1="279.8" y1="36.33333333333333" x2="281.3" y2="36.33333333333333" stroke="#555" stroke-width="0.5"/>
<text class="s" x="278.3" y="51.36666666666667" font-size="5.6" text-anchor="end">10</text>
<line x1="279.8" y1="48.766666666666666" x2="281.3" y2="48.766666666666666" stroke="#555" stroke-width="0.5"/>
<text class="s" x="278.3" y="63.99999999999999" font-size="5.6" text-anchor="end">0</text>
<line x1="279.8" y1="61.199999999999996" x2="281.3" y2="61.199999999999996" stroke="#555" stroke-width="0.5"/>
<text class="s" x="278.3" y="76.93333333333332" font-size="5.6" text-anchor="end">-10</text>
<line x1="279.8" y1="73.63333333333333" x2="281.3" y2="73.63333333333333" stroke="#555" stroke-width="0.5"/>
<text class="s" x="278.3" y="89.36666666666666" font-size="5.6" text-anchor="end">-20</text>
<line x1="279.8" y1="86.06666666666666" x2="281.3" y2="86.06666666666666" stroke="#555" stroke-width="0.5"/>
<text class="s" x="278.3" y="99.8" font-size="5.6" text-anchor="end">-30</text>
<line x1="279.8" y1="98.5" x2="281.3" y2="98.5" stroke="#555" stroke-width="0.5"/>
<text class="h" x="313.1" y="33.0" font-size="8.6">wt</text>
<line x1="288.3" y1="140.324" x2="288.3" y2="143.276" stroke="#333" stroke-width="0.5"/>
<text class="s" x="289.40000000000003" y="144.60000000000002" font-size="3.4" text-anchor="end" fill="#222" transform="rotate(-90 289.40000000000003 144.60000000000002)" letter-spacing="0.25">0.0 ±1.2</text>
<rect x="297.00" y="140.94" width="13.00" height="0.86" fill="#000" stroke="#222" stroke-width="0.6"/>
<line x1="303.5" y1="140.324" x2="303.5" y2="140.93900000000002" stroke="#333" stroke-width="0.5"/>
<text class="s" x="304.6" y="144.60000000000002" font-size="3.4" text-anchor="end" fill="#222" transform="rotate(-90 304.6 144.60000000000002)" letter-spacing="0.25">0.7 ±0.2</text>
<rect x="312.30" y="128.64" width="13.00" height="13.16" fill="#909090" stroke="#222" stroke-width="0.6"/>
<line x1="318.8" y1="127.90100000000001" x2="318.8" y2="128.639" stroke="#333" stroke-width="0.5"/>
<text class="s" x="319.90000000000003" y="144.60000000000002" font-size="3.4" text-anchor="end" fill="#222" transform="rotate(-90 319.90000000000003 144.60000000000002)" letter-spacing="0.25">10.7 ±0.9</text>
<rect x="327.40" y="118.68" width="13.00" height="23.12" fill="#fff" stroke="#666" stroke-width="0.6"/>
<line x1="333.9" y1="118.061" x2="333.9" y2="118.676" stroke="#333" stroke-width="0.5"/>
<text class="s" x="335.0" y="144.60000000000002" font-size="3.4" text-anchor="end" fill="#222" transform="rotate(-90 335.0 144.60000000000002)" letter-spacing="0.25">18.8 ±0.5</text>
<line x1="279.8" y1="141.8" x2="342.3" y2="141.8" stroke="#444" stroke-width="0.7"/>
<rect x="279.80" y="104.60" width="62.50" height="73.80" fill="none" stroke="#666" stroke-width="0.8"/>
<text class="s" x="278.3" y="107.39999999999999" font-size="5.6" text-anchor="end">30</text>
<line x1="279.8" y1="104.6" x2="281.3" y2="104.6" stroke="#555" stroke-width="0.5"/>
<text class="s" x="278.3" y="119.8" font-size="5.6" text-anchor="end">20</text>
<line x1="279.8" y1="116.89999999999999" x2="281.3" y2="116.89999999999999" stroke="#555" stroke-width="0.5"/>
<text class="s" x="278.3" y="131.79999999999998" font-size="5.6" text-anchor="end">10</text>
<line x1="279.8" y1="129.2" x2="281.3" y2="129.2" stroke="#555" stroke-width="0.5"/>
<text class="s" x="278.3" y="144.3" font-size="5.6" text-anchor="end">0</text>
<line x1="279.8" y1="141.5" x2="281.3" y2="141.5" stroke="#555" stroke-width="0.5"/>
<text class="s" x="278.3" y="157.10000000000002" font-size="5.6" text-anchor="end">-10</text>
<line x1="279.8" y1="153.8" x2="281.3" y2="153.8" stroke="#555" stroke-width="0.5"/>
<text class="s" x="278.3" y="169.4" font-size="5.6" text-anchor="end">-20</text>
<line x1="279.8" y1="166.1" x2="281.3" y2="166.1" stroke="#555" stroke-width="0.5"/>
<text class="s" x="278.3" y="179.70000000000002" font-size="5.6" text-anchor="end">-30</text>
<line x1="279.8" y1="178.4" x2="281.3" y2="178.4" stroke="#555" stroke-width="0.5"/>
<text class="s" x="312.6" y="115.69999999999999" font-size="8.6" stroke="#111" stroke-width="0.3">p60<tspan font-size="4.4" dy="-3.27" fill="#333" stroke="none">-/-</tspan></text>
<line x1="288.3" y1="218.9225" x2="288.3" y2="223.5775" stroke="#333" stroke-width="0.5"/>
<text class="s" x="289.40000000000003" y="218.65" font-size="3.4" text-anchor="start" fill="#222" transform="rotate(-90 289.40000000000003 218.65)" letter-spacing="0.25">-0.0 ±1.9</text>
<rect x="297.00" y="221.25" width="13.00" height="6.74" fill="#000" stroke="#222" stroke-width="0.6"/>
<line x1="303.5" y1="227.9875" x2="303.5" y2="229.58" stroke="#333" stroke-width="0.5"/>
<text class="s" x="304.6" y="218.65" font-size="3.4" text-anchor="start" fill="#222" transform="rotate(-90 304.6 218.65)" letter-spacing="0.25">-5.5 ±1.3</text>
<rect x="312.30" y="221.25" width="13.00" height="6.25" fill="#909090" stroke="#222" stroke-width="0.6"/>
<line x1="318.8" y1="227.4975" x2="318.8" y2="228.7225" stroke="#333" stroke-width="0.5"/>
<text class="s" x="319.90000000000003" y="218.65" font-size="3.4" text-anchor="start" fill="#222" transform="rotate(-90 319.90000000000003 218.65)" letter-spacing="0.25">-5.1 ±1.0</text>
<rect x="327.40" y="221.25" width="13.00" height="6.98" fill="#fff" stroke="#666" stroke-width="0.6"/>
<line x1="333.9" y1="228.2325" x2="333.9" y2="228.9675" stroke="#333" stroke-width="0.5"/>
<text class="s" x="335.0" y="218.65" font-size="3.4" text-anchor="start" fill="#222" transform="rotate(-90 335.0 218.65)" letter-spacing="0.25">-5.7 ±0.6</text>
<line x1="279.8" y1="221.25" x2="342.3" y2="221.25" stroke="#444" stroke-width="0.7"/>
<rect x="279.80" y="185.00" width="62.50" height="73.50" fill="none" stroke="#666" stroke-width="0.8"/>
<text class="s" x="278.3" y="187.8" font-size="5.6" text-anchor="end">30</text>
<line x1="279.8" y1="185.0" x2="281.3" y2="185.0" stroke="#555" stroke-width="0.5"/>
<text class="s" x="278.3" y="200.15" font-size="5.6" text-anchor="end">20</text>
<line x1="279.8" y1="197.25" x2="281.3" y2="197.25" stroke="#555" stroke-width="0.5"/>
<text class="s" x="278.3" y="212.1" font-size="5.6" text-anchor="end">10</text>
<line x1="279.8" y1="209.5" x2="281.3" y2="209.5" stroke="#555" stroke-width="0.5"/>
<text class="s" x="278.3" y="224.55" font-size="5.6" text-anchor="end">0</text>
<line x1="279.8" y1="221.75" x2="281.3" y2="221.75" stroke="#555" stroke-width="0.5"/>
<text class="s" x="278.3" y="237.3" font-size="5.6" text-anchor="end">-10</text>
<line x1="279.8" y1="234.0" x2="281.3" y2="234.0" stroke="#555" stroke-width="0.5"/>
<text class="s" x="278.3" y="249.55" font-size="5.6" text-anchor="end">-20</text>
<line x1="279.8" y1="246.25" x2="281.3" y2="246.25" stroke="#555" stroke-width="0.5"/>
<text class="s" x="278.3" y="259.8" font-size="5.6" text-anchor="end">-30</text>
<line x1="279.8" y1="258.5" x2="281.3" y2="258.5" stroke="#555" stroke-width="0.5"/>
<text class="s" x="313" y="195.0" font-size="8.6" stroke="#111" stroke-width="0.3">p80<tspan font-size="4.4" dy="-3.27" fill="#333" stroke="none">-/-</tspan></text>
<line x1="288.3" y1="300.1875" x2="288.3" y2="303.9125" stroke="#333" stroke-width="0.5"/>
<text class="s" x="289.40000000000003" y="299.45" font-size="3.4" text-anchor="start" fill="#222" transform="rotate(-90 289.40000000000003 299.45)" letter-spacing="0.25">-0.0 ±1.5</text>
<rect x="297.00" y="302.05" width="13.00" height="18.00" fill="#000" stroke="#222" stroke-width="0.6"/>
<line x1="303.5" y1="320.0541666666667" x2="303.5" y2="321.66833333333335" stroke="#333" stroke-width="0.5"/>
<text class="s" x="304.6" y="299.45" font-size="3.4" text-anchor="start" fill="#222" transform="rotate(-90 304.6 299.45)" letter-spacing="0.25">-14.5 ±1.3</text>
<rect x="312.30" y="302.05" width="13.00" height="21.98" fill="#909090" stroke="#222" stroke-width="0.6"/>
<line x1="318.8" y1="324.02750000000003" x2="318.8" y2="325.7658333333334" stroke="#333" stroke-width="0.5"/>
<text class="s" x="319.90000000000003" y="299.45" font-size="3.4" text-anchor="start" fill="#222" transform="rotate(-90 319.90000000000003 299.45)" letter-spacing="0.25">-17.7 ±1.4</text>
<rect x="327.40" y="302.05" width="13.00" height="26.07" fill="#fff" stroke="#666" stroke-width="0.6"/>
<line x1="333.9" y1="328.125" x2="333.9" y2="328.87" stroke="#333" stroke-width="0.5"/>
<text class="s" x="335.0" y="299.45" font-size="3.4" text-anchor="start" fill="#222" transform="rotate(-90 335.0 299.45)" letter-spacing="0.25">-21.0 ±1.5</text>
<line x1="279.8" y1="302.05" x2="342.3" y2="302.05" stroke="#444" stroke-width="0.7"/>
<rect x="279.80" y="264.50" width="62.50" height="74.50" fill="none" stroke="#666" stroke-width="0.8"/>
<text class="s" x="278.3" y="267.3" font-size="5.6" text-anchor="end">30</text>
<line x1="279.8" y1="264.5" x2="281.3" y2="264.5" stroke="#555" stroke-width="0.5"/>
<text class="s" x="278.3" y="279.81666666666666" font-size="5.6" text-anchor="end">20</text>
<line x1="279.8" y1="276.9166666666667" x2="281.3" y2="276.9166666666667" stroke="#555" stroke-width="0.5"/>
<text class="s" x="278.3" y="291.93333333333334" font-size="5.6" text-anchor="end">10</text>
<line x1="279.8" y1="289.3333333333333" x2="281.3" y2="289.3333333333333" stroke="#555" stroke-width="0.5"/>
<text class="s" x="278.3" y="304.55" font-size="5.6" text-anchor="end">0</text>
<line x1="279.8" y1="301.75" x2="281.3" y2="301.75" stroke="#555" stroke-width="0.5"/>
<text class="s" x="278.3" y="317.4666666666667" font-size="5.6" text-anchor="end">-10</text>
<line x1="279.8" y1="314.1666666666667" x2="281.3" y2="314.1666666666667" stroke="#555" stroke-width="0.5"/>
<text class="s" x="278.3" y="329.8833333333333" font-size="5.6" text-anchor="end">-20</text>
<line x1="279.8" y1="326.5833333333333" x2="281.3" y2="326.5833333333333" stroke="#555" stroke-width="0.5"/>
<text class="s" x="278.3" y="340.3" font-size="5.6" text-anchor="end">-30</text>
<line x1="279.8" y1="339.0" x2="281.3" y2="339.0" stroke="#555" stroke-width="0.5"/>
<text class="s" x="311.3" y="275.1" font-size="8.5" stroke="#111" stroke-width="0.3">p60<tspan font-size="4.4" dy="-3.23" fill="#333" stroke="none">-/-</tspan><tspan dy="3.23">p80</tspan><tspan font-size="4.4" dy="-3.23" fill="#333" stroke="none">-/-</tspan></text>
<text class="s" x="288.8" y="345.0" font-size="5.4">0</text>
<text class="s" x="303" y="345.0" font-size="5.4">0.1</text>
<text class="s" x="318.6" y="345.0" font-size="5.4">0.3</text>
<text class="s" x="334" y="345.0" font-size="5.4">1</text>
<text class="s" x="313.8" y="351.8" font-size="6.6" stroke="#111" stroke-width="0.3">RANKL (nM)</text>
<text class="s" x="263.2" y="174.5" font-size="8.8" transform="rotate(-90 263.2 174.5)" stroke="#111" stroke-width="0.3">Proliferation (%)</text>
<text class="s" x="408.5" y="22.8" font-size="5.2">0</text>
<text class="s" x="420.8" y="22.8" font-size="5.2">0.1</text>
<text class="s" x="433.5" y="22.8" font-size="5.2">0.3</text>
<text class="s" x="447.4" y="22.8" font-size="5.2">1</text>
<text class="s" x="461.3" y="22.8" font-size="5.2">3</text>
<text class="s" x="479" y="23" font-size="6.4" text-anchor="start">RANKL (nM)</text>
<clipPath id="c17"><rect x="397.5" y="25.8" width="70.5" height="22.7"/></clipPath>
<rect x="397.5" y="25.8" width="70.5" height="22.7" fill="url(#ge)"/>
<g clip-path="url(#c17)">
<g filter="url(#b3)">
<rect x="402.80" y="31.10" width="62.90" height="4.60" rx="2.30" fill="#000" fill-opacity="0.6"/>
<rect x="400.30" y="29.60" width="13.00" height="7.60" rx="3.80" fill="#000" fill-opacity="1"/>
<rect x="414.50" y="29.60" width="13.00" height="7.60" rx="3.80" fill="#000" fill-opacity="1"/>
<rect x="428.20" y="29.60" width="13.00" height="7.60" rx="3.80" fill="#000" fill-opacity="1"/>
<rect x="441.90" y="29.60" width="13.00" height="7.60" rx="3.80" fill="#000" fill-opacity="1"/>
<rect x="455.20" y="29.60" width="13.00" height="7.60" rx="3.80" fill="#000" fill-opacity="1"/>
</g>
</g>
<rect x="397.5" y="25.8" width="70.5" height="22.7" fill="none" stroke="#555" stroke-width="0.7"/>
<polygon points="471.8,32.6 475.8,30.400000000000002 475.8,34.800000000000004" fill="#111"/>
<polygon points="471.8,44.7 475.8,42.5 475.8,46.900000000000006" fill="#111"/>
<clipPath id="c18"><rect x="397.5" y="53.0" width="70.5" height="22.7"/></clipPath>
<rect x="397.5" y="53.0" width="70.5" height="22.7" fill="url(#ge)"/>
<g clip-path="url(#c18)">
<g filter="url(#b3)">
<rect x="402.80" y="58.30" width="62.90" height="4.60" rx="2.30" fill="#000" fill-opacity="0.6"/>
<rect x="400.30" y="56.80" width="13.00" height="7.60" rx="3.80" fill="#000" fill-opacity="1"/>
<rect x="414.50" y="56.80" width="13.00" height="7.60" rx="3.80" fill="#000" fill-opacity="1"/>
<rect x="428.20" y="56.80" width="13.00" height="7.60" rx="3.80" fill="#000" fill-opacity="1"/>
<rect x="441.90" y="56.80" width="13.00" height="7.60" rx="3.80" fill="#000" fill-opacity="1"/>
<rect x="455.20" y="56.80" width="13.00" height="7.60" rx="3.80" fill="#000" fill-opacity="1"/>
</g>
</g>
<rect x="397.5" y="53.0" width="70.5" height="22.7" fill="none" stroke="#555" stroke-width="0.7"/>
<polygon points="471.8,59.8 475.8,57.599999999999994 475.8,62.0" fill="#111"/>
<polygon points="471.8,71.9 475.8,69.7 475.8,74.10000000000001" fill="#111"/>
<clipPath id="c19"><rect x="397.5" y="80.4" width="70.5" height="22.7"/></clipPath>
<rect x="397.5" y="80.4" width="70.5" height="22.7" fill="url(#ge)"/>
<g clip-path="url(#c19)">
<g filter="url(#b3)">
<rect x="402.80" y="85.70" width="62.90" height="4.60" rx="2.30" fill="#000" fill-opacity="0.6"/>
<rect x="400.30" y="84.20" width="13.00" height="7.60" rx="3.80" fill="#000" fill-opacity="1"/>
<rect x="414.50" y="84.20" width="13.00" height="7.60" rx="3.80" fill="#000" fill-opacity="1"/>
<rect x="428.20" y="84.20" width="13.00" height="7.60" rx="3.80" fill="#000" fill-opacity="1"/>
<rect x="441.90" y="84.20" width="13.00" height="7.60" rx="3.80" fill="#000" fill-opacity="1"/>
<rect x="455.20" y="84.20" width="13.00" height="7.60" rx="3.80" fill="#000" fill-opacity="1"/>
</g>
<g filter="url(#b1)">
<rect x="401.05" y="95.60" width="11.50" height="4.20" rx="2.10" fill="#111" fill-opacity="0.12"/>
<rect x="415.25" y="95.60" width="11.50" height="4.20" rx="2.10" fill="#111" fill-opacity="0.25"/>
<rect x="428.95" y="95.60" width="11.50" height="4.20" rx="2.10" fill="#111" fill-opacity="0.3"/>
<rect x="442.65" y="95.60" width="11.50" height="4.20" rx="2.10" fill="#111" fill-opacity="0.36"/>
<rect x="455.95" y="95.60" width="11.50" height="4.20" rx="2.10" fill="#111" fill-opacity="0.3"/>
</g>
</g>
<rect x="397.5" y="80.4" width="70.5" height="22.7" fill="none" stroke="#555" stroke-width="0.7"/>
<polygon points="471.8,87.2 475.8,85.0 475.8,89.4" fill="#111"/>
<polygon points="471.8,99.30000000000001 475.8,97.10000000000001 475.8,101.50000000000001" fill="#111"/>
<clipPath id="c20"><rect x="397.5" y="108.2" width="70.5" height="22.7"/></clipPath>
<rect x="397.5" y="108.2" width="70.5" height="22.7" fill="url(#ge)"/>
<g clip-path="url(#c20)">
<g filter="url(#b3)">
<rect x="402.80" y="111.90" width="62.90" height="4.60" rx="2.30" fill="#000" fill-opacity="0.6"/>
<rect x="400.30" y="111.30" width="13.00" height="5.80" rx="2.90" fill="#000" fill-opacity="1"/>
<rect x="414.50" y="111.30" width="13.00" height="5.80" rx="2.90" fill="#000" fill-opacity="1"/>
<rect x="428.20" y="111.30" width="13.00" height="5.80" rx="2.90" fill="#000" fill-opacity="1"/>
<rect x="441.90" y="111.30" width="13.00" height="5.80" rx="2.90" fill="#000" fill-opacity="1"/>
<rect x="455.20" y="111.30" width="13.00" height="5.80" rx="2.90" fill="#000" fill-opacity="1"/>
</g>
<g filter="url(#b1)">
<rect x="401.05" y="123.00" width="11.50" height="3.60" rx="1.80" fill="#111" fill-opacity="0.3"/>
<rect x="415.25" y="123.00" width="11.50" height="3.60" rx="1.80" fill="#111" fill-opacity="0.55"/>
<rect x="428.95" y="123.00" width="11.50" height="3.60" rx="1.80" fill="#111" fill-opacity="0.95"/>
<rect x="442.65" y="123.00" width="11.50" height="3.60" rx="1.80" fill="#111" fill-opacity="0.9"/>
<rect x="455.95" y="123.00" width="11.50" height="3.60" rx="1.80" fill="#111" fill-opacity="0.8"/>
</g>
</g>
<rect x="397.5" y="108.2" width="70.5" height="22.7" fill="none" stroke="#555" stroke-width="0.7"/>
<polygon points="471.8,113.4 475.8,111.2 475.8,115.60000000000001" fill="#111"/>
<polygon points="471.8,125.0 475.8,122.8 475.8,127.2" fill="#111"/>
<text class="s" x="478" y="34.6" font-size="6.6" text-anchor="start" stroke="#111" stroke-width="0.3">PARP</text>
<text class="s" x="478" y="47" font-size="6.6" text-anchor="start" stroke="#111" stroke-width="0.3">Cleaved-PARP</text>
<text class="h" x="387.4" y="38.5" font-size="8.1">wt</text>
<text class="s" x="385.5" y="67.1" font-size="8.8" stroke="#111" stroke-width="0.3">p60<tspan font-size="4.6" dy="-3.34" fill="#333" stroke="none">-/-</tspan></text>
<text class="s" x="385.5" y="95.5" font-size="8.8" stroke="#111" stroke-width="0.3">p80<tspan font-size="4.6" dy="-3.34" fill="#333" stroke="none">-/-</tspan></text>
<text class="s" x="377.3" y="123.2" font-size="8.7" stroke="#111" stroke-width="0.3">p60<tspan font-size="4.5" dy="-3.31" fill="#333" stroke="none">-/-</tspan><tspan dy="3.31">p80</tspan><tspan font-size="4.5" dy="-3.31" fill="#333" stroke="none">-/-</tspan></text>
<line x1="413.5" y1="255.39600000000002" x2="413.5" y2="258.6" stroke="#333" stroke-width="0.9"/>
<line x1="412.3" y1="255.39600000000002" x2="414.7" y2="255.39600000000002" stroke="#333" stroke-width="0.5"/>
<text class="s" x="414.7" y="253.79600000000002" font-size="3.7" text-anchor="start" fill="#222" transform="rotate(-90 414.7 253.79600000000002)" letter-spacing="0.25">0.0 ±0.9</text>
<rect x="425.00" y="250.41" width="14.40" height="8.19" fill="#c2c2c2" stroke="#333" stroke-width="0.7"/>
<line x1="432.2" y1="247.92000000000004" x2="432.2" y2="250.41200000000003" stroke="#333" stroke-width="0.9"/>
<line x1="431.0" y1="247.92000000000004" x2="433.4" y2="247.92000000000004" stroke="#333" stroke-width="0.5"/>
<text class="s" x="433.4" y="246.32000000000005" font-size="3.7" text-anchor="start" fill="#222" transform="rotate(-90 433.4 246.32000000000005)" letter-spacing="0.25">2.3 ±0.7</text>
<rect x="443.60" y="189.54" width="14.40" height="69.06" fill="#c2c2c2" stroke="#333" stroke-width="0.7"/>
<line x1="450.8" y1="183.84" x2="450.8" y2="189.536" stroke="#333" stroke-width="0.9"/>
<line x1="449.6" y1="183.84" x2="452.0" y2="183.84" stroke="#333" stroke-width="0.5"/>
<text class="s" x="452.0" y="182.24" font-size="3.7" text-anchor="start" fill="#222" transform="rotate(-90 452.0 182.24)" letter-spacing="0.25">19.4 ±1.6</text>
<rect x="462.20" y="231.19" width="14.40" height="27.41" fill="#c2c2c2" stroke="#333" stroke-width="0.7"/>
<line x1="469.4" y1="227.62800000000001" x2="469.4" y2="231.18800000000002" stroke="#333" stroke-width="0.9"/>
<line x1="468.2" y1="227.62800000000001" x2="470.59999999999997" y2="227.62800000000001" stroke="#333" stroke-width="0.5"/>
<text class="s" x="470.59999999999997" y="226.02800000000002" font-size="3.7" text-anchor="start" fill="#222" transform="rotate(-90 470.59999999999997 226.02800000000002)" letter-spacing="0.25">7.7 ±1.0</text>
<rect x="403.90" y="164.30" width="74.40" height="94.30" fill="none" stroke="#555" stroke-width="0.7"/>
<text class="s" x="401.2" y="260.8" font-size="6.4" text-anchor="end">0</text>
<line x1="403.9" y1="258.6" x2="405.4" y2="258.6" stroke="#555" stroke-width="0.5"/>
<text class="s" x="401.2" y="243.0" font-size="6.4" text-anchor="end">5</text>
<line x1="403.9" y1="240.8" x2="405.4" y2="240.8" stroke="#555" stroke-width="0.5"/>
<text class="s" x="401.2" y="225.2" font-size="6.4" text-anchor="end">10</text>
<line x1="403.9" y1="223.0" x2="405.4" y2="223.0" stroke="#555" stroke-width="0.5"/>
<text class="s" x="401.2" y="207.4" font-size="6.4" text-anchor="end">15</text>
<line x1="403.9" y1="205.20000000000002" x2="405.4" y2="205.20000000000002" stroke="#555" stroke-width="0.5"/>
<text class="s" x="401.2" y="189.6" font-size="6.4" text-anchor="end">20</text>
<line x1="403.9" y1="187.4" x2="405.4" y2="187.4" stroke="#555" stroke-width="0.5"/>
<text class="s" x="401.2" y="171.79999999999998" font-size="6.4" text-anchor="end">25</text>
<line x1="403.9" y1="169.6" x2="405.4" y2="169.6" stroke="#555" stroke-width="0.5"/>
<text class="s" x="406" y="170.3" font-size="3.05" text-anchor="start" fill="#222">p60<tspan font-size="2.2" dy="-1">-/-</tspan><tspan dy="1">p80</tspan><tspan font-size="2.2" dy="-1">-/-</tspan><tspan dy="1">, 10 nM RANKL, 72h</tspan></text>
<text class="s" x="389.9" y="212.0" font-size="8.4" transform="rotate(-90 389.9 212.0)" stroke="#111" stroke-width="0.3">Anti-proliferation (%)</text>
<text class="s" x="414.2" y="266.6" font-size="5.2">-</text>
<text class="s" x="414.2" y="272.7" font-size="5.2">-</text>
<text class="s" x="432.5" y="266.6" font-size="5.2">-</text>
<text class="s" x="432.5" y="272.7" font-size="5.2">+</text>
<text class="s" x="450.7" y="266.6" font-size="5.2">+</text>
<text class="s" x="450.7" y="272.7" font-size="5.2">-</text>
<text class="s" x="468.7" y="266.6" font-size="5.2">+</text>
<text class="s" x="468.7" y="272.7" font-size="5.2">+</text>
<text class="s" x="483" y="265.4" font-size="6.3" text-anchor="start">RANKL</text>
<text class="s" x="483" y="271.6" font-size="6.3" text-anchor="start">L-NAME</text>
</g></svg></body></html>
